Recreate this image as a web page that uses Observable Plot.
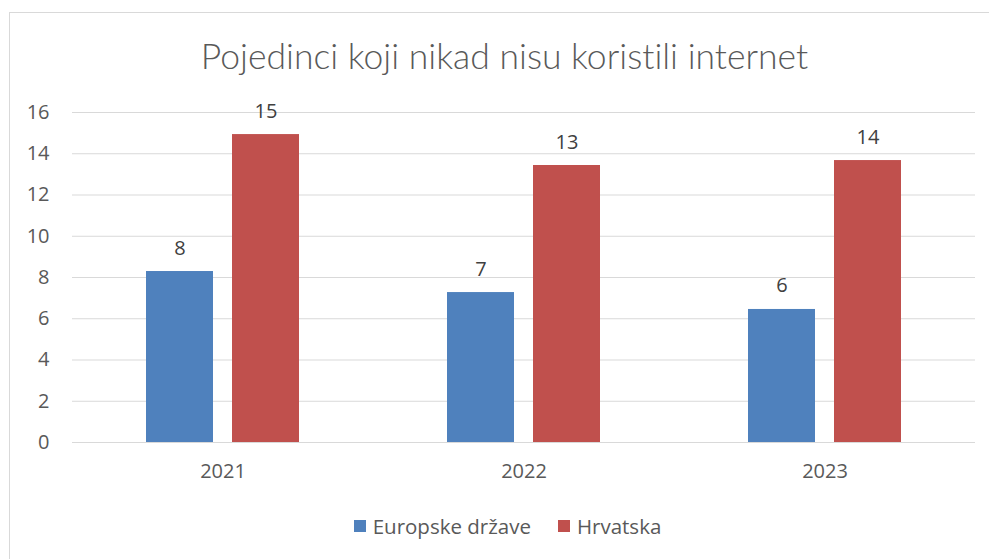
<!DOCTYPE html>
<html>
<head>
<meta charset="utf-8">
<script src="https://cdn.jsdelivr.net/npm/d3@7"></script>
<script src="https://cdn.jsdelivr.net/npm/@observablehq/plot@0.6"></script>
<style>
  html, body { margin: 0; padding: 0; background: #fff; overflow: hidden; }
  #wrap { position: relative; width: 989px; height: 559px; overflow: hidden; font-family: "Open Sans", sans-serif; }
  #frame { position: absolute; left: 9px; top: 12px; width: 1000px; height: 600px; border: 1px solid #d9d9d9; box-sizing: border-box; }
  #title { position: absolute; left: 10px; top: 0; width: 989px; height: 90px; text-align: center; font-size: 35.5px; line-height: 35.5px; color: #595959; padding-top: 38px; box-sizing: border-box; font-family: "Lato", sans-serif; font-weight: 300; font-variant-ligatures: none; }
  #chart { position: absolute; left: 0; top: 90px; }
  #legend { position: absolute; left: 13px; top: 512px; width: 989px; display: flex; justify-content: center; gap: 27px; font-size: 20.5px; line-height: 28px; color: #595959; }
  .item { display: flex; align-items: center; gap: 7px; }
  .sw { width: 12px; height: 12px; display: inline-block; }
</style>
</head>
<body>
<div id="wrap">
  <div id="frame"></div>
  <div id="title">Pojedinci koji nikad nisu koristili internet</div>
  <div id="chart"></div>
  <div id="legend"></div>
</div>
<script>
const years = ["2021", "2022", "2023"];
const seriesNames = ["Europske države", "Hrvatska"];
const seriesColors = ["#4F81BD", "#C0504D"];
const euValues = [8.29, 7.27, 6.45];
const hrValues = [14.93, 13.43, 13.67];
const euLabels = ["8", "7", "6"];
const hrLabels = ["15", "13", "14"];
const yTicks = [0, 2, 4, 6, 8, 10, 12, 14, 16];

const data = [];
years.forEach((yr, i) => {
  data.push({year: yr, series: seriesNames[0], value: euValues[i], label: euLabels[i]});
  data.push({year: yr, series: seriesNames[1], value: hrValues[i], label: hrLabels[i]});
});

const plot = Plot.plot({
  width: 989,
  height: 400,
  marginTop: 22,
  marginBottom: 48,
  marginLeft: 72,
  marginRight: 14,
  style: {fontSize: "20px", fontFamily: "Open Sans, sans-serif", color: "#595959", background: "transparent"},
  fx: {domain: years, padding: 0, label: null, tickSize: 0, tickPadding: 21, axis: "bottom"},
  x: {domain: seriesNames, axis: null, paddingInner: 0.221, paddingOuter: 0.86},
  y: {domain: [0, 16], ticks: yTicks, tickSize: 0, tickPadding: 23, label: null, tickFormat: d => String(d)},
  color: {domain: seriesNames, range: seriesColors},
  marks: [
    Plot.ruleY(yTicks, {stroke: "#d9d9d9", strokeWidth: 1.2}),
    Plot.barY(data, {fx: "year", x: "series", y: "value", fill: "series", inset: 0}),
    Plot.text(data, {fx: "year", x: "series", y: "value", text: "label", lineAnchor: "bottom", dy: -17, fill: "#404040", fontSize: 20})
  ]
});
document.getElementById("chart").appendChild(plot);

const legend = document.getElementById("legend");
seriesNames.forEach((s, i) => {
  const it = document.createElement("div");
  it.className = "item";
  const sw = document.createElement("span");
  sw.className = "sw";
  sw.style.background = seriesColors[i];
  const t = document.createElement("span");
  t.textContent = s;
  it.appendChild(sw); it.appendChild(t);
  legend.appendChild(it);
});
</script>
</body>
</html>
